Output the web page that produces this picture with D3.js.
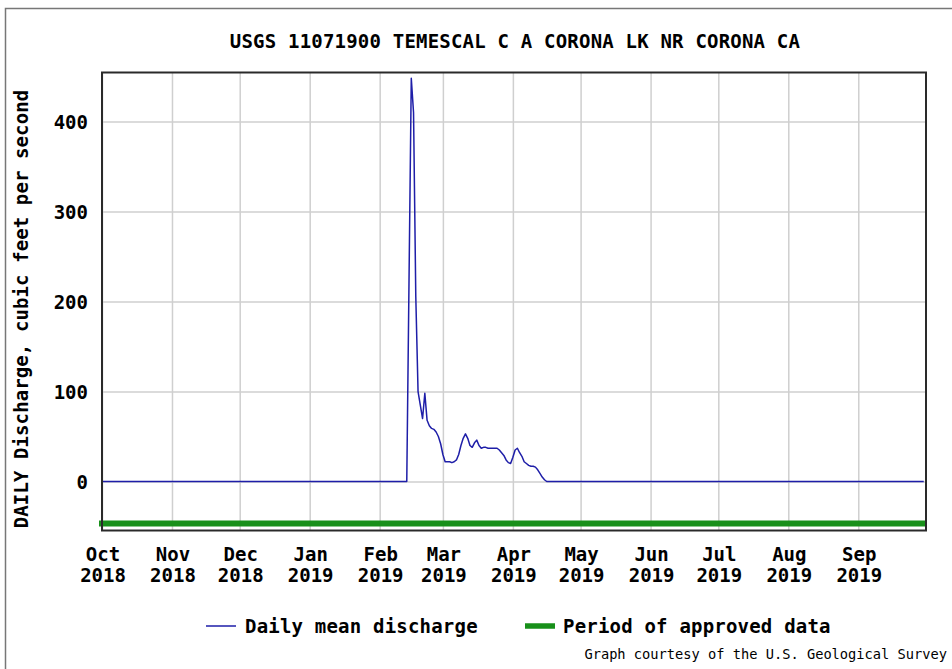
<!DOCTYPE html>
<html>
<head>
<meta charset="utf-8">
<script src="https://cdn.jsdelivr.net/npm/d3@7"></script>
<style>
  body { margin: 0; background: #fff; }
  svg text { font-family: "DejaVu Sans Mono", "Liberation Mono", monospace; font-weight: bold; fill: #000; }
  svg text.footer { font-weight: normal; }
</style>
</head>
<body>
<div id="chart"></div>
<script>
// Daily mean discharge (cfs), Feb 13 2019 -> Apr 16 2019, zero otherwise
var periodStart = "2018-10-01";
var periodEnd = "2019-09-30";
var eventStart = "2019-02-13";
var eventFlow = [
    0, 224, 448, 410, 205, 100, 85, 70, 98, 68,
    62, 59, 58, 55, 50, 42, 30, 22, 22, 22,
    21, 22, 24, 30, 40, 48, 53, 48, 40, 38,
    43, 46, 40, 37, 38, 38, 37, 37, 37, 37,
    37, 35, 32, 29, 24, 21, 20, 27, 35, 37,
    32, 28, 22, 20, 18, 17, 17, 16, 13, 9,
    5, 2, 0
];

var monthLabels = ["Oct", "Nov", "Dec", "Jan", "Feb", "Mar", "Apr", "May", "Jun", "Jul", "Aug", "Sep"];
var yearLabels = ["2018", "2018", "2018", "2019", "2019", "2019", "2019", "2019", "2019", "2019", "2019", "2019"];
var yTicks = [0, 100, 200, 300, 400];
var approvedLevel = -46.5;

var svgWidth = 952;
var svgHeight = 669;

var margin = {
    top: 72.5,
    right: 26,
    bottom: 138.5,
    left: 102
};

var width = svgWidth - margin.left - margin.right;
var height = svgHeight - margin.top - margin.bottom;

var parseDate = d3.utcParse("%Y-%m-%d");

var svg = d3.select("#chart")
    .append("svg")
    .attr("width", svgWidth)
    .attr("height", svgHeight);

// outer frame (top + left edges)
svg.append("path")
    .attr("d", "M5.5,669 L5.5,8.5 L952,8.5")
    .attr("fill", "none")
    .attr("stroke", "#777")
    .attr("stroke-width", 1.5);

var chartGroup = svg.append("g")
    .attr("transform", `translate(${margin.left}, ${margin.top})`);

// build series from the arrays
var flowData = [{ date: parseDate(periodStart), value: 0 }];
eventFlow.forEach(function(v, i) {
    flowData.push({ date: d3.utcDay.offset(parseDate(eventStart), i), value: v });
});
flowData.push({ date: parseDate(periodEnd), value: 0 });

var xTimeScale = d3.scaleUtc()
    .domain([parseDate(periodStart), d3.utcDay.offset(parseDate(periodEnd), 1)])
    .range([0, width]);

var yLinearScale = d3.scaleLinear()
    .domain([-54.4, 454.4])
    .range([height, 0]);

var monthStarts = d3.utcMonth.range(xTimeScale.domain()[0], xTimeScale.domain()[1]);

// gridlines
chartGroup.append("g")
    .attr("class", "grid")
    .attr("transform", `translate(0, ${height})`)
    .call(d3.axisBottom(xTimeScale).tickValues(monthStarts).tickSize(-height).tickFormat(""))
    .call(g => g.select(".domain").remove())
    .call(g => g.selectAll("line").attr("stroke", "#cfcfcf").attr("stroke-width", 1.5));

chartGroup.append("g")
    .attr("class", "grid")
    .call(d3.axisLeft(yLinearScale).tickValues(yTicks).tickSize(-width).tickFormat(""))
    .call(g => g.select(".domain").remove())
    .call(g => g.selectAll("line").attr("stroke", "#cfcfcf").attr("stroke-width", 1.5));

// y tick labels
chartGroup.append("g")
    .call(d3.axisLeft(yLinearScale).tickValues(yTicks).tickSize(0).tickPadding(14))
    .call(g => g.select(".domain").remove())
    .call(g => g.selectAll("text").style("font-size", "19px").attr("dy", "0.38em"));

// x tick labels (two lines)
var xLabels = chartGroup.append("g")
    .selectAll("text")
    .data(monthStarts)
    .enter()
    .append("text")
    .attr("text-anchor", "middle")
    .style("font-size", "19px");

xLabels.append("tspan")
    .attr("x", d => xTimeScale(d) + 1)
    .attr("y", height + 30)
    .text((d, i) => monthLabels[i]);

xLabels.append("tspan")
    .attr("x", d => xTimeScale(d) + 1)
    .attr("y", height + 51.5)
    .text((d, i) => yearLabels[i]);

// period of approved data
chartGroup.append("line")
    .attr("x1", xTimeScale(parseDate(periodStart)) - 3)
    .attr("x2", xTimeScale(d3.utcDay.offset(parseDate(periodEnd), 1)))
    .attr("y1", yLinearScale(approvedLevel))
    .attr("y2", yLinearScale(approvedLevel))
    .attr("stroke", "#18901a")
    .attr("stroke-width", 6);

// discharge line
var flowLine = d3.line()
    .x(d => xTimeScale(d.date))
    .y(d => yLinearScale(d.value));

chartGroup.append("path")
    .datum(flowData)
    .attr("d", flowLine)
    .attr("fill", "none")
    .attr("stroke", "#1e1ea8")
    .attr("stroke-width", 1.5)
    .attr("stroke-linejoin", "round");

// plot border
chartGroup.append("rect")
    .attr("width", width)
    .attr("height", height)
    .attr("fill", "none")
    .attr("stroke", "#2a2a2a")
    .attr("stroke-width", 2);

// title
svg.append("text")
    .attr("x", margin.left + width / 2 + 1)
    .attr("y", 48)
    .attr("text-anchor", "middle")
    .style("font-size", "19px")
    .style("letter-spacing", "0.2px")
    .text("USGS 11071900 TEMESCAL C A CORONA LK NR CORONA CA");

// y axis label
svg.append("text")
    .attr("transform", "translate(28, 309) rotate(-90)")
    .attr("text-anchor", "middle")
    .style("font-size", "19px")
    .style("letter-spacing", "0.1px")
    .text("DAILY Discharge, cubic feet per second");

// legend
var legend = svg.append("g");

legend.append("line")
    .attr("x1", 206).attr("x2", 236)
    .attr("y1", 626).attr("y2", 626)
    .attr("stroke", "#1e1ea8")
    .attr("stroke-width", 1.5);

legend.append("text")
    .attr("x", 245)
    .attr("y", 633)
    .style("font-size", "19px")
    .style("letter-spacing", "0.2px")
    .text("Daily mean discharge");

legend.append("line")
    .attr("x1", 525).attr("x2", 555)
    .attr("y1", 626).attr("y2", 626)
    .attr("stroke", "#18901a")
    .attr("stroke-width", 5.5);

legend.append("text")
    .attr("x", 563)
    .attr("y", 633)
    .style("font-size", "19px")
    .style("letter-spacing", "0.2px")
    .text("Period of approved data");

svg.append("text")
    .attr("class", "footer")
    .attr("x", 947)
    .attr("y", 659)
    .attr("text-anchor", "end")
    .style("font-size", "13.7px")
    .text("Graph courtesy of the U.S. Geological Survey");
</script>
</body>
</html>
